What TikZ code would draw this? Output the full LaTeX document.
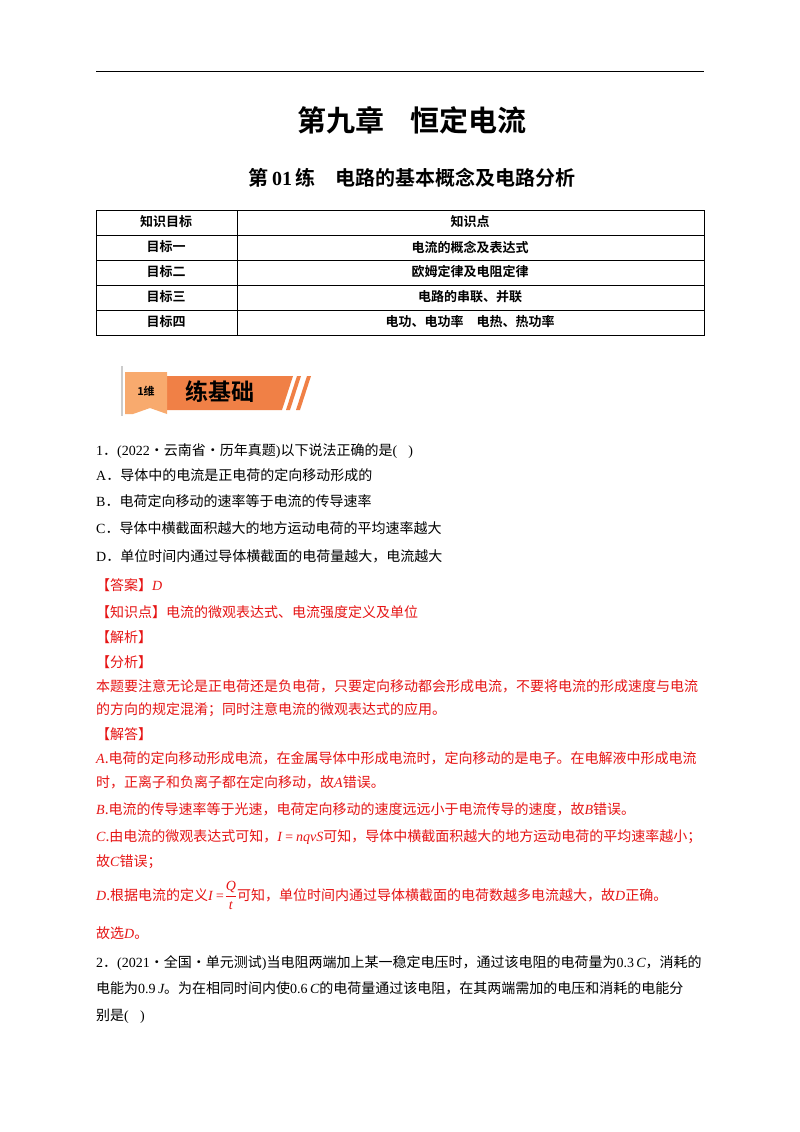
\documentclass[tikz,border=0pt]{standalone}
\usepackage{fontspec}
\setmainfont{Liberation Serif}
\newfontfamily\cjk{Noto Sans CJK SC}
\newfontfamily\cjkb{Noto Sans CJK SC Bold}
\newfontfamily\lser{Liberation Serif}
\newcommand\lat[1]{{\lser\itshape #1}}
\newcommand\up[1]{{\lser #1}}
\definecolor{ans}{RGB}{230,20,20}
\definecolor{band}{RGB}{240,128,70}
\definecolor{tab}{RGB}{248,170,110}
\begin{document}
\begin{tikzpicture}[x=1pt,y=-1pt,
  line/.style={anchor=base west,inner sep=0pt,font=\fontsize{14}{14}\selectfont\cjk},
  rline/.style={line,text=ans},
  cell/.style={anchor=center,inner sep=0pt,font=\fontsize{13}{13}\selectfont\cjkb}]
\useasboundingbox (0,0) rectangle (800,1132);
\fill[white] (0,0) rectangle (800,1132);
\draw[line width=1pt] (96,72) -- (704,72);
\node[cell,font=\fontsize{29}{29}\selectfont\cjkb] (t1) at (412,120) {第九章\hspace{0.9em}恒定电流};
\node[cell,font=\fontsize{20}{20}\selectfont\cjkb] (t2) at (412,178) {第\,{\bfseries\lser 01}\,练\hspace{1em}电路的基本概念及电路分析};
% table
\draw[line width=0.6pt] (96,210) rectangle (704,335);
\foreach \y in {235,260,285,310} \draw[line width=0.6pt] (96,\y) -- (704,\y);
\draw[line width=0.6pt] (237,210) -- (237,335);
\node[cell] (a0) at (166,222) {知识目标}; \node[cell] (b0) at (470,222) {知识点};
\node[cell] (a1) at (166,247) {目标一}; \node[cell] (b1) at (470,247) {电流的概念及表达式};
\node[cell] (a2) at (166,272) {目标二}; \node[cell] (b2) at (470,272) {欧姆定律及电阻定律};
\node[cell] (a3) at (166,297) {目标三}; \node[cell] (b3) at (470,297) {电路的串联、并联};
\node[cell] (a4) at (166,322) {目标四}; \node[cell] (b4) at (470,322) {电功、电功率\hspace{1em}电热、热功率};
% banner
\draw[gray!40,line width=1.5pt] (122,366) -- (122,416);
\fill[band] (165,376) -- (293,376) -- (282,410) -- (165,410) -- cycle;
\fill[band] (286,410) -- (297,376) -- (301,376) -- (290,410) -- cycle;
\fill[band] (296,410) -- (307,376) -- (311,376) -- (300,410) -- cycle;
\fill[tab] (125,372) -- (167,372) -- (167,414) -- (150,408) -- (133,414) -- (125,414) -- cycle;
\node[cell,font=\fontsize{11}{11}\selectfont\cjkb] (bn) at (146,391) {1维};
\node[cell,font=\fontsize{23}{23}\selectfont\cjkb] (bt) at (220,392) {练基础};
% text
\node[line] (q1) at (96,455) {\up{1}．\up{(2022}·云南省·历年真题\up{)}以下说法正确的是\up{(\hspace{0.8em})}};
\node[line] (qa) at (96,480) {\up{A}．导体中的电流是正电荷的定向移动形成的};
\node[line] (qb) at (96,506) {\up{B}．电荷定向移动的速率等于电流的传导速率};
\node[line] (qc) at (96,533) {\up{C}．导体中横截面积越大的地方运动电荷的平均速率越大};
\node[line] (qd) at (96,561) {\up{D}．单位时间内通过导体横截面的电荷量越大，电流越大};
\node[rline] (r1) at (96,590) {【答案】\lat{D}};
\node[rline] (r2) at (96,617) {【知识点】电流的微观表达式、电流强度定义及单位};
\node[rline] (r3) at (96,642) {【解析】};
\node[rline] (r4) at (96,667) {【分析】};
\node[rline] (r5) at (96,691) {本题要注意无论是正电荷还是负电荷，只要定向移动都会形成电流，不要将电流的形成速度与电流};
\node[rline] (r6) at (96,714) {的方向的规定混淆；同时注意电流的微观表达式的应用。};
\node[rline] (r7) at (96,739) {【解答】};
\node[rline] (r8) at (96,763) {\lat{A}.电荷的定向移动形成电流，在金属导体中形成电流时，定向移动的是电子。在电解液中形成电流};
\node[rline] (r9) at (96,787) {时，正离子和负离子都在定向移动，故\lat{A}错误。};
\node[rline] (r10) at (96,814) {\lat{B}.电流的传导速率等于光速，电荷定向移动的速度远远小于电流传导的速度，故\lat{B}错误。};
\node[rline] (r11) at (96,841) {\lat{C}.由电流的微观表达式可知，\lat{I\,=\,nqvS}可知，导体中横截面积越大的地方运动电荷的平均速率越小；};
\node[rline] (r12) at (96,866) {故\lat{C}错误；};
\node[rline] (r13) at (96,900) {\lat{D}.根据电流的定义\lat{I\,=}$\displaystyle\frac{\mbox{\lat{Q}}}{\mbox{\lat{t}}}$可知，单位时间内通过导体横截面的电荷数越多电流越大，故\lat{D}正确。};
\node[rline] (r14) at (96,938) {故选\lat{D}。};
\node[line] (q2) at (96,967) {\up{2}．\up{(2021}·全国·单元测试\up{)}当电阻两端加上某一稳定电压时，通过该电阻的电荷量为\up{0.3}\,\lat{C}，消耗的};
\node[line] (q2b) at (96,993) {电能为\up{0.9}\,\lat{J}。为在相同时间内使\up{0.6}\,\lat{C}的电荷量通过该电阻，在其两端需加的电压和消耗的电能分};
\node[line] (q2c) at (96,1020) {别是\up{(\hspace{0.8em})}};
\end{tikzpicture}
\end{document}
